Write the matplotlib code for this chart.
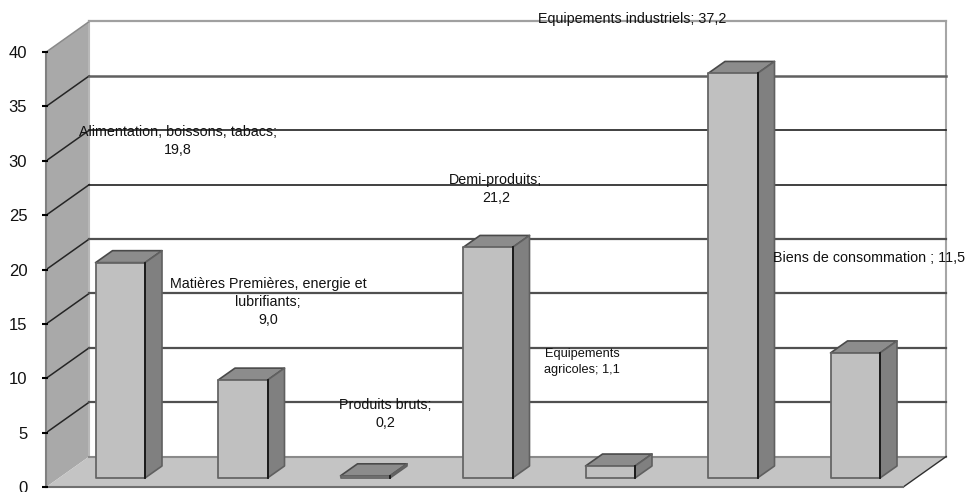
import matplotlib
matplotlib.use("Agg")
import matplotlib.pyplot as plt
from matplotlib.patches import Polygon

plt.rcParams["font.family"] = ["Liberation Sans", "DejaVu Sans"]

# ------------------------------------------------------------
# Data
# ------------------------------------------------------------
categories = [
    "Alimentation, boissons, tabacs",
    "Matières Premières, energie et\nlubrifiants",
    "Produits bruts",
    "Demi-produits",
    "Equipements\nagricoles",
    "Equipements industriels",
    "Biens de consommation",
]
values = [19.8, 9.0, 0.2, 21.2, 1.1, 37.2, 11.5]
value_labels = ["19,8", "9,0", "0,2", "21,2", "1,1", "37,2", "11,5"]
y_ticks = [0, 5, 10, 15, 20, 25, 30, 35, 40]

# ------------------------------------------------------------
# Fake 3D geometry, in pixels of the 965x492 figure
# ------------------------------------------------------------
W, H = 965, 492
px_x = 122.5            # pixels per category
px_y = 10.875           # pixels per value unit
x0_px, y0_px = 120.25, 487

wall_dx, wall_dy = 43 / px_x, 30.5 / px_y
base_dy = 9 / px_y
bar_dx, bar_dy = 17 / px_x, 12 / px_y
bar_w = 49.5 / px_x
x_left = -74 / px_x     # left end of the front axis
x_right = 783 / px_x    # right end of the front edge of the floor

fig = plt.figure(figsize=(W / 100, H / 100), dpi=100)
ax = fig.add_axes([0, 0, 1, 1])
ax.set_xlim(-x0_px / px_x, (W - x0_px) / px_x)
ax.set_ylim((y0_px - H) / px_y, y0_px / px_y)
ax.axis("off")


def poly(pts, fc, ec="none", lw=0, z=1):
    ax.add_patch(Polygon(pts, closed=True, facecolor=fc, edgecolor=ec,
                         linewidth=lw, zorder=z, joinstyle="round"))


# ------------------------------------------------------------
# Walls and floor
# ------------------------------------------------------------
top = y_ticks[-1]
bx_l, bx_r = x_left + wall_dx, x_right + wall_dx
poly([(x_left, 0), (bx_l, wall_dy), (bx_l, top + wall_dy), (x_left, top)], "#a9a9a9")
poly([(x_left, 0), (bx_l, wall_dy), (bx_r, wall_dy), (x_right, 0)], "#c4c4c4")

ax.plot([bx_l, bx_l], [wall_dy, top + wall_dy], color="#b8b8b8", lw=1.5, zorder=2)
ax.plot([bx_r, bx_r], [wall_dy, top + wall_dy], color="#a6a6a6", lw=1.5, zorder=2)
ax.plot([bx_l, bx_r], [wall_dy, wall_dy], color="#8a8a8a", lw=1.5, zorder=2)
ax.plot([x_right, bx_r], [0, wall_dy], color="#303030", lw=1.0, zorder=2)
ax.plot([x_left, x_right], [0, 0], color="#707070", lw=1.5, zorder=2)

for t in y_ticks[1:]:
    if t == 40:
        wall_col, wall_lw = "#a0a0a0", 1.6
    elif t == 35:
        wall_col, wall_lw = "#606060", 1.8
    elif t in (25, 30):
        wall_col, wall_lw = "#202020", 1.2
    else:
        wall_col, wall_lw = "#505050", 1.6
    ax.plot([x_left, bx_l], [t, t + wall_dy], color="#252525" if t < 40 else "#8a8a8a",
            lw=1.1, zorder=2)
    ax.plot([bx_l, bx_r], [t + wall_dy, t + wall_dy], color=wall_col, lw=wall_lw, zorder=2)

# front axis with its ticks
ax.plot([x_left, x_left], [0, top], color="#808080", lw=1.5, zorder=3)
ax.plot([x_left - 1 / px_x] * len(y_ticks), y_ticks, linestyle="none", marker="_",
        color="black", markersize=4, markeredgewidth=1.5, zorder=4)
for t in y_ticks:
    ax.text(x_left - 19 / px_x, t - 1.5 / px_y, str(t), ha="right", va="center", fontsize=12,
            color="#111111", zorder=6)

# ------------------------------------------------------------
# Bars
# ------------------------------------------------------------
edge = "#4a4a4a"
for i, v in enumerate(values):
    xl, xr = i - bar_w / 2, i + bar_w / 2
    y1, y2 = base_dy, base_dy + v
    poly([(xl, y2), (xr, y2), (xr + bar_dx, y2 + bar_dy), (xl + bar_dx, y2 + bar_dy)],
         "#8c8c8c", edge, 1.2, 3)
    poly([(xr, y1), (xr + bar_dx, y1 + bar_dy), (xr + bar_dx, y2 + bar_dy), (xr, y2)],
         "#808080", "#606060", 1.2, 3)
    poly([(xl, y1), (xr, y1), (xr, y2), (xl, y2)], "#c0c0c0", "#666666", 1.3, 4)
    ax.plot([xr, xr], [y1, y2], color="#151515", lw=1.3, zorder=5)


# ------------------------------------------------------------
# Value labels, placed by their pixel centre
# ------------------------------------------------------------
def label(px, py, s, size=10.3):
    ax.text((px - x0_px) / px_x, (y0_px - py) / px_y, s, fontsize=size, ha="center",
            va="center", color="#111111", zorder=6, linespacing=1.35)


label(178, 141, f"{categories[0]};\n{value_labels[0]}")
label(268, 302, f"{categories[1]};\n{value_labels[1]}")
label(385, 414, f"{categories[2]};\n{value_labels[2]}")
label(496, 189, f"{categories[3]};\n{value_labels[3]}")
label(582, 362, f"{categories[4]}; {value_labels[4]}", size=9.2)
label(632, 19, f"{categories[5]}; {value_labels[5]}")
label(869, 258, f"{categories[6]} ; {value_labels[6]}")

fig.savefig("out.png", dpi=100)
